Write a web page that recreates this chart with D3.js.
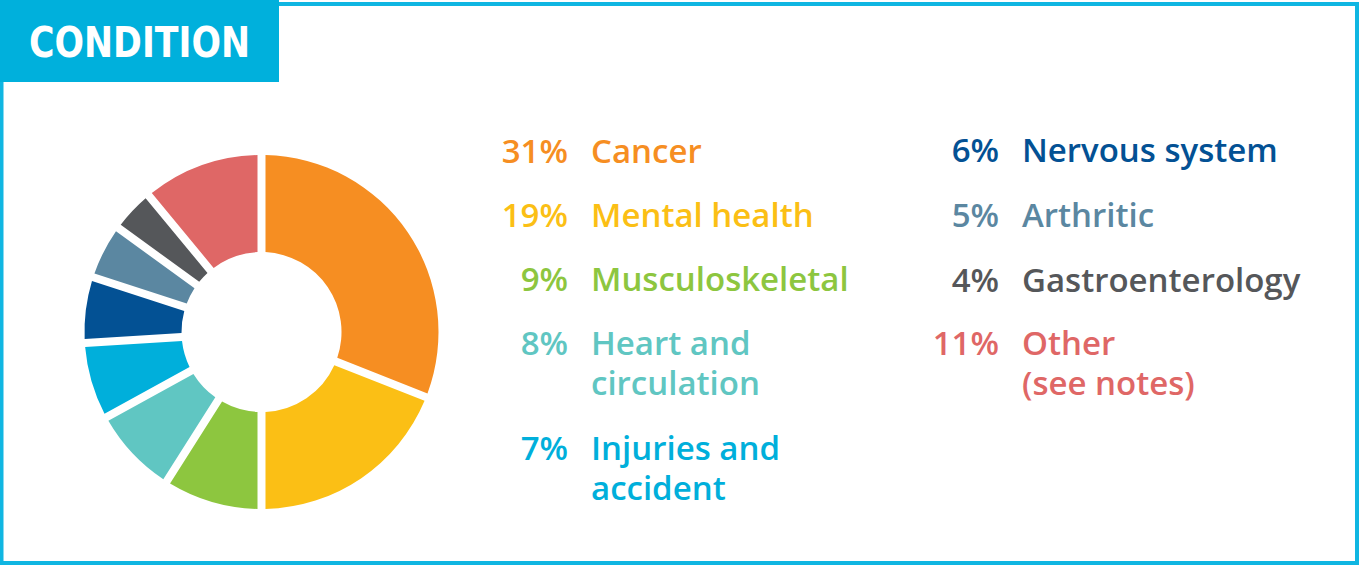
<!DOCTYPE html>
<html>
<head>
<meta charset="utf-8">
<script src="https://cdn.jsdelivr.net/npm/d3@7"></script>
<style>
  html, body { margin: 0; padding: 0; background: #fff; }
  svg { display: block; }
</style>
</head>
<body>
<div id="chart"></div>
<script>
// Chart data
const categories = ["Cancer", "Mental health", "Musculoskeletal", "Heart and circulation",
  "Injuries and accident", "Nervous system", "Arthritic", "Gastroenterology", "Other (see notes)"];
const values = [31, 19, 9, 8, 7, 6, 5, 4, 11];
const colors = ["#f68e22", "#fbbf15", "#8dc63f", "#60c6c2", "#00afdb",
  "#035194", "#5b87a1", "#55575a", "#df6766"];
// legend label lines (wrapped as in the original)
const labelLines = [["Cancer"], ["Mental health"], ["Musculoskeletal"], ["Heart and", "circulation"],
  ["Injuries and", "accident"], ["Nervous system"], ["Arthritic"], ["Gastroenterology"], ["Other", "(see notes)"]];
const title = "CONDITION";

const width = 1359;
const height = 565;
const cyan = "#00b0dc";

const svg = d3.select("#chart")
  .append("svg")
  .attr("width", width)
  .attr("height", height);

// outer frame
svg.append("rect")
  .attr("x", 1.5)
  .attr("y", 4)
  .attr("width", width - 3.5)
  .attr("height", height - 6)
  .attr("fill", "none")
  .attr("stroke", "#10b6e2")
  .attr("stroke-width", 4);

// title tab
svg.append("rect")
  .attr("x", 0)
  .attr("y", 0)
  .attr("width", 279)
  .attr("height", 82)
  .attr("fill", cyan);

svg.append("text")
  .attr("x", 29)
  .attr("y", 57)
  .attr("fill", "#fff")
  .attr("textLength", 221)
  .attr("lengthAdjust", "spacingAndGlyphs")
  .style("font-family", "'DejaVu Sans Condensed', 'DejaVu Sans', sans-serif")
  .style("font-weight", "bold")
  .style("font-size", "42px")
  .text(title);

// donut
const cx = 261.5, cy = 332;
const outerR = 177, innerR = 80;

const pie = d3.pie().sort(null).value((d) => d);
const arc = d3.arc()
  .innerRadius(innerR)
  .outerRadius(outerR)
  .padRadius(100)
  .padAngle(0.08);

const g = svg.append("g").attr("transform", `translate(${cx},${cy})`);
g.selectAll("path")
  .data(pie(values))
  .join("path")
  .attr("d", arc)
  .attr("fill", (d, i) => colors[i]);

// legend: two columns, first five on the left, rest on the right
const lineGap = 40;
const cols = [
  { pctX: 568, labelX: 591, rows: [0, 1, 2, 3, 4], starts: [163, 227, 291, 355, 460] },
  { pctX: 999, labelX: 1022, rows: [5, 6, 7, 8], starts: [162, 227, 292, 355] }
];

const fontFam = "'Open Sans', 'DejaVu Sans', sans-serif";

cols.forEach((col) => {
  col.rows.forEach((idx, r) => {
    const y = col.starts[r];
    const item = svg.append("g")
      .style("font-family", fontFam)
      .style("font-size", "33px")
      .style("font-weight", 600)
      .attr("fill", colors[idx]);
    item.append("text")
      .attr("x", col.pctX)
      .attr("y", y)
      .attr("text-anchor", "end")
      .text(values[idx] + "%");
    // wrapped label kept as one text element with tspans
    item.append("text")
      .attr("y", y)
      .selectAll("tspan")
      .data(labelLines[idx])
      .join("tspan")
      .attr("x", col.labelX)
      .attr("y", (d, k) => y + k * lineGap)
      .text((d) => d);
  });
});
</script>
</body>
</html>
